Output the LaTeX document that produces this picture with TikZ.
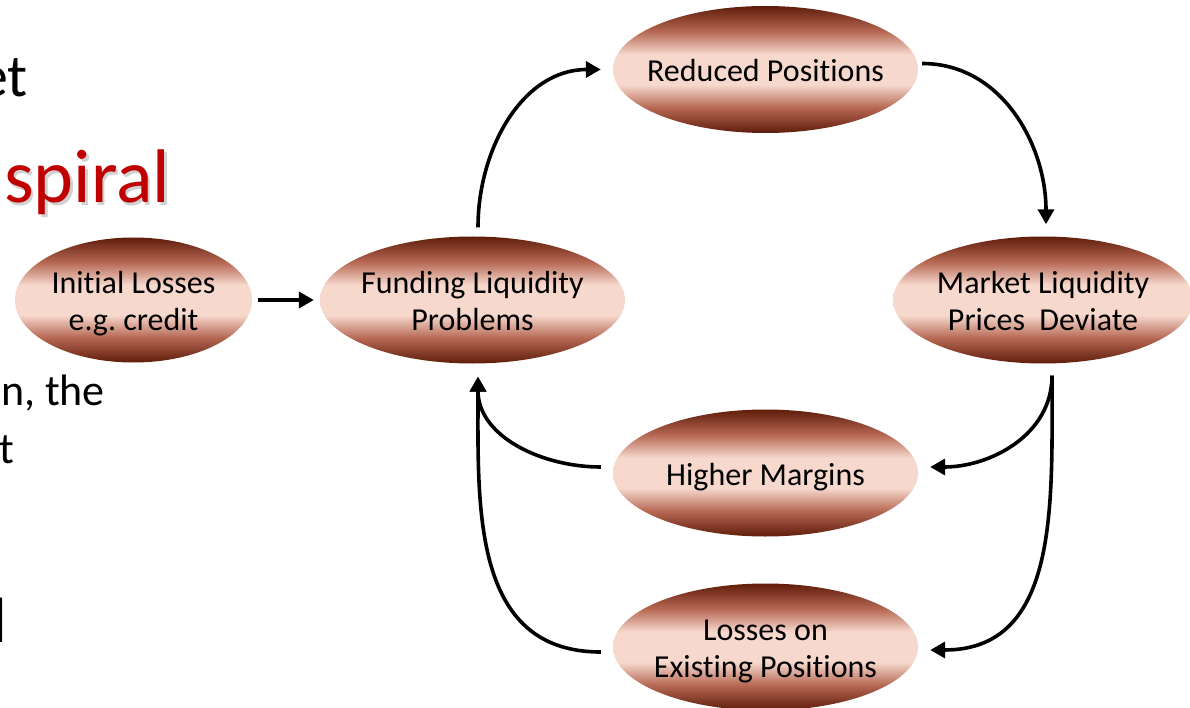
\documentclass[tikz,border=0pt]{standalone}
\usepackage{fontspec}
\setmainfont[Ligatures={NoCommon}]{Carlito}
\frenchspacing
\usetikzlibrary{shapes.geometric,arrows.meta}
\definecolor{dk}{RGB}{95,28,10}
\definecolor{md}{RGB}{182,104,84}
\definecolor{lt}{RGB}{246,216,205}
\definecolor{spiralred}{RGB}{192,0,0}
\pgfdeclareverticalshading{elshade}{100bp}{color(0bp)=(dk); color(25bp)=(dk); color(35bp)=(md); color(44bp)=(lt); color(56bp)=(lt); color(65bp)=(md); color(75bp)=(dk); color(100bp)=(dk)}
\newcommand\eltext[1]{\makebox[0pt]{\raisebox{-11pt}[0pt][0pt]{\begin{tabular}{@{}c@{}}#1\end{tabular}}}}
\tikzset{
  bub/.style={ellipse, shading=elshade, minimum width=305pt, minimum height=127pt, inner sep=0pt, font=\fontsize{32}{37}\selectfont},
  conn/.style={line width=3.6pt, -{Triangle[length=15pt,width=16pt]}},
  bodytxt/.style={inner sep=0pt, font=\fontsize{44}{52}\selectfont},
}
\begin{document}
\begin{tikzpicture}[x=1pt,y=-1pt]
\useasboundingbox (0,0) rectangle (1190,708);
\clip (0,0) rectangle (1190,708);
% left slide text fragments
\node[inner sep=0pt, anchor=base east, font=\fontsize{60}{72}\selectfont] (t1) at (28,97) {et};
\node[inner sep=0pt, anchor=base west, font=\fontsize{76}{90}\selectfont, text=black, opacity=0.18] (t2s) at (6.5,205.5) {spiral};
\node[inner sep=0pt, anchor=base west, font=\fontsize{76}{90}\selectfont, text=spiralred] (t2) at (4,203) {spiral};
\node[bodytxt, anchor=base east] (t3) at (105,405) {n, the};
\node[bodytxt, anchor=base east] (t4) at (14,463) {t};
\node[inner sep=0pt, anchor=base west, font=\fontsize{64}{72}\selectfont] (t5) at (-7.5,642) {l};
% ellipses
\node[bub, minimum width=237pt, minimum height=125pt] (init) at (133.5,300) {\eltext{Initial Losses\\e.g. credit}};
\node[bub] (fund) at (472.5,300) {\eltext{Funding Liquidity\\Problems}};
\node[bub] (red) at (765.5,69.5) {\eltext{Reduced Positions}};
\node[bub, minimum width=300pt] (mkt) at (1043,300) {\eltext{Market Liquidity\\Prices\ \ Deviate}};
\node[bub] (hm) at (765.5,473) {\eltext{Higher Margins}};
\node[bub] (los) at (765.5,647) {\eltext{Losses on\\Existing Positions}};
% connectors
\draw[conn, shorten <=6pt, shorten >=6pt] (init.east) -- (fund.west);
\draw[conn] ([xshift=5.5pt,yshift=9pt]fund.north) to[out=90,in=180] ([xshift=-12pt]red.west);
\draw[conn] ([xshift=4pt,yshift=6pt]red.east) to[out=0,in=90] ([xshift=3pt,yshift=12pt]mkt.north);
\draw[conn] ([xshift=9pt,yshift=-12pt]mkt.south) to[out=-90,in=0] ([xshift=12pt,yshift=6pt]hm.east);
\draw[conn] ([xshift=9pt,yshift=-12pt]mkt.south) to[out=-90,in=0,looseness=1.1] ([xshift=12pt,yshift=-3pt]los.east);
\draw[conn] ([xshift=-12pt,yshift=6pt]hm.west) to[out=180,in=-90] ([xshift=5.5pt,yshift=-13pt]fund.south);
\draw[conn] ([xshift=-12pt,yshift=-5pt]los.west) to[out=180,in=-90,looseness=1.1] ([xshift=5.5pt,yshift=-13pt]fund.south);
\end{tikzpicture}
\end{document}
